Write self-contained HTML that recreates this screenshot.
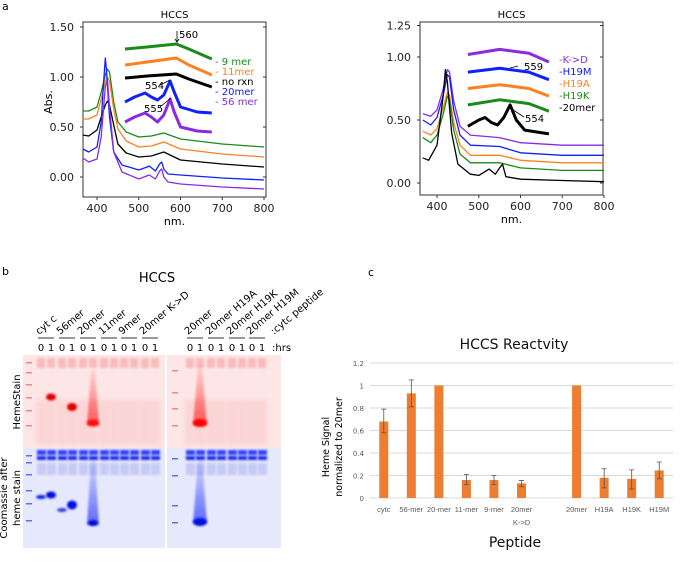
<!DOCTYPE html>
<html><head><meta charset="utf-8"><style>
body{margin:0;background:#fff;}
svg{display:block;font-family:"DejaVu Sans","Liberation Sans",sans-serif;}
</style></head><body>
<svg id="fig" width="695" height="564" viewBox="0 0 695 564" xmlns="http://www.w3.org/2000/svg">
<defs>
<filter id="bl" x="-50%" y="-50%" width="200%" height="200%"><feGaussianBlur stdDeviation="2"/></filter>
<filter id="bl2" x="-50%" y="-50%" width="200%" height="200%"><feGaussianBlur stdDeviation="1"/></filter>
<linearGradient id="smR" x1="0" y1="0" x2="0" y2="1"><stop offset="0" stop-color="#ff3030" stop-opacity="0.1"/><stop offset="1" stop-color="#ff2020" stop-opacity="0.7"/></linearGradient>
<linearGradient id="smB" x1="0" y1="0" x2="0" y2="1"><stop offset="0" stop-color="#3040ff" stop-opacity="0.1"/><stop offset="1" stop-color="#2030ff" stop-opacity="0.7"/></linearGradient>
</defs>
<text x="2" y="10" font-size="11">a</text>
<g id="pa1"></g>
<g id="pa2"></g>
<text x="2" y="275" font-size="11">b</text>
<text x="157" y="282" font-size="13" text-anchor="middle">HCCS</text>
<g id="gel"></g>
<text x="368" y="276" font-size="11">c</text>
<g id="bars"></g>
</svg>
<script>
const NS="http://www.w3.org/2000/svg";
function mk(p,t,a){const e=document.createElementNS(NS,t);for(const k in a)e.setAttribute(k,a[k]);p.appendChild(e);return e;}

// ---------- Panel a data (wavelength nm, absorbance) ----------
const leftWl=[366,380,400,410,420,425,430,440,450,470,500,530,560,600,700,800];
const left9mer=[.66,.66,.70,.85,1.02,1.08,1.05,.75,.55,.45,.40,.41,.44,.38,.33,.30];
const left11mer=[.58,.58,.62,.78,.96,1.00,.96,.68,.48,.36,.30,.31,.35,.28,.23,.20];
const leftNoRxn=[.42,.41,.47,.60,.72,.76,.72,.52,.33,.24,.20,.21,.25,.17,.13,.10];
const blueWl=[366,380,400,410,415,420,423,430,440,460,500,520,525,540,550,555,560,570,600,700,800];
const left20mer=[.28,.25,.30,.55,.90,1.19,1.05,.60,.25,.12,.07,.10,.11,.06,.13,.15,.08,.03,.02,-.01,-.03];
const purpWl=[366,380,400,410,420,425,430,440,460,500,525,540,550,555,560,570,600,700,800];
const left56mer=[.19,.15,.18,.40,.90,.98,.70,.25,.05,-.02,.02,-.02,.06,.08,.0,-.05,-.07,-.10,-.12];
const insLWl=[467,520,590,620,675];
const ins9=[1.28,1.30,1.33,1.28,1.18];
const ins11=[1.12,1.15,1.19,1.12,1.02];
const insNo=[.99,1.01,1.03,.98,.90];
const insPkWl=[467,490,515,530,545,560,575,585,600,640,675];
const ins20=[.75,.80,.84,.80,.77,.82,.96,.85,.70,.65,.64];
const ins56=[.55,.60,.64,.60,.55,.62,.78,.65,.50,.46,.45];
const leftYTicks=[0,0.5,1.0,1.5];
const xTicks=[400,500,600,700,800];

const rWl=[366,385,400,415,425,430,440,455,480,550,600,700,800];
const rKD=[.55,.53,.58,.75,.90,.88,.65,.45,.38,.36,.32,.30,.30];
const rH19M=[.50,.46,.52,.70,.86,.84,.58,.38,.30,.29,.24,.22,.22];
const rH19A=[.41,.38,.43,.60,.72,.70,.48,.30,.22,.22,.18,.16,.16];
const rH19K=[.36,.32,.38,.55,.69,.66,.42,.23,.16,.16,.12,.10,.10];
const rBlkWl=[366,380,400,415,420,425,435,450,480,500,525,540,550,557,565,600,700,800];
const r20mer=[.20,.18,.30,.70,.90,.80,.40,.15,.07,.06,.11,.07,.12,.15,.05,.03,.02,.01];
const insRWl=[474,550,620,668];
const insKD=[1.02,1.06,1.03,.96];
const insM=[.88,.91,.88,.82];
const insA=[.75,.78,.75,.69];
const insK=[.62,.66,.63,.57];
const insBWl=[474,500,515,530,545,560,575,590,610,668];
const insBlk=[.45,.50,.52,.48,.46,.52,.62,.50,.42,.39];
const rightYTicks=[0,0.5,1.0,1.25];

function spectra(g,o){
  const sx=nm=>o.x0+(nm-400)*o.kx, sy=v=>o.y0-v*o.ky;
  mk(g,'rect',{x:o.L,y:o.T,width:o.R-o.L,height:o.B-o.T,fill:'none',stroke:'#333','stroke-width':1});
  o.yt.forEach(v=>{const y=sy(v);
    const t=mk(g,'line',{x1:o.L-3,x2:o.L,y1:y,y2:y,stroke:'#333'});
    mk(g,'line',{x1:o.R-3,x2:o.R,y1:y,y2:y,stroke:'#333'});
    const l=mk(g,'text',{x:o.L-9,y:y+4,'font-size':11,'text-anchor':'end',fill:'#222'});l.textContent=v.toFixed(2);
    });
  xTicks.forEach(v=>{const x=sx(v);
    mk(g,'line',{x1:x,x2:x,y1:o.B,y2:o.B+3,stroke:'#333'});
    const l=mk(g,'text',{x:x,y:o.B+15,'font-size':11,'text-anchor':'middle',fill:'#222'});l.textContent=v;
    });
  const xl=mk(g,'text',{x:(o.L+o.R)/2,y:o.B+28,'font-size':11,'text-anchor':'middle'});xl.textContent='nm.';
  const tt=mk(g,'text',{x:(o.L+o.R)/2,y:o.T-4,'font-size':10,'text-anchor':'middle'});tt.textContent='HCCS';
  o.series.forEach(s=>{
    const d=s.wl.map((w,i)=>(i?'L':'M')+sx(w).toFixed(1)+','+sy(s.v[i]).toFixed(1)).join('');
    const p=mk(g,'path',{d:d,fill:'none',stroke:s.c,'stroke-width':s.w,'stroke-linejoin':'round'});
    
  });
}
const G='#1a8a1a',O='#ff8020',K='#000',B='#1020ff',P='#8a2be2';
spectra(document.getElementById('pa1'),{L:83,R:266,T:22,B:197,x0:97,kx:0.4175,y0:177,ky:100,yt:leftYTicks,series:[
 {wl:leftWl,v:left9mer,c:G,w:1.3,n:'line-9mer'},{wl:leftWl,v:left11mer,c:O,w:1.3,n:'line-11mer'},
 {wl:leftWl,v:leftNoRxn,c:K,w:1.3,n:'line-no-rxn'},{wl:blueWl,v:left20mer,c:B,w:1.3,n:'line-20mer'},
 {wl:purpWl,v:left56mer,c:P,w:1.3,n:'line-56mer'},
 {wl:insLWl,v:ins9,c:G,w:3,n:'inset-9mer'},{wl:insLWl,v:ins11,c:O,w:3,n:'inset-11mer'},
 {wl:insLWl,v:insNo,c:K,w:3,n:'inset-no-rxn'},{wl:insPkWl,v:ins20,c:B,w:3,n:'inset-20mer'},
 {wl:insPkWl,v:ins56,c:P,w:3,n:'inset-56mer'}]});
spectra(document.getElementById('pa2'),{L:420,R:603,T:22,B:195,x0:437,kx:0.4175,y0:183,ky:126,yt:rightYTicks,series:[
 {wl:rWl,v:rKD,c:P,w:1.3,n:'line-k-to-d'},{wl:rWl,v:rH19M,c:B,w:1.3,n:'line-h19m'},
 {wl:rWl,v:rH19A,c:O,w:1.3,n:'line-h19a'},{wl:rWl,v:rH19K,c:G,w:1.3,n:'line-h19k'},
 {wl:rBlkWl,v:r20mer,c:K,w:1.3,n:'line-20mer-right'},
 {wl:insRWl,v:insKD,c:P,w:3,n:'inset-k-to-d'},{wl:insRWl,v:insM,c:B,w:3,n:'inset-h19m'},
 {wl:insRWl,v:insA,c:O,w:3,n:'inset-h19a'},{wl:insRWl,v:insK,c:G,w:3,n:'inset-h19k'},
 {wl:insBWl,v:insBlk,c:K,w:3,n:'inset-20mer-right'}]});
(function(){const s=document.getElementById('fig');
 const t=mk(s,'text',{x:52,y:102,'font-size':11,'text-anchor':'middle',transform:'rotate(-90 52 102)'});t.textContent='Abs.';
 const legL=[['- 9 mer',G],['- 11mer',O],['- no rxn',K],['- 20mer',B],['- 56 mer',P]];
 legL.forEach((l,i)=>{const e=mk(s,'text',{x:215,y:65+i*10,'font-size':10,fill:l[1]});e.textContent=l[0];});
 const legR=[['-K->D',P],['-H19M',B],['-H19A',O],['-H19K',G],['-20mer',K]];
 legR.forEach((l,i)=>{const e=mk(s,'text',{x:559,y:63+i*12,'font-size':10,fill:l[1]});e.textContent=l[0];});
 [['560',179,38],['554',145,89],['555',144,112],['559',524,70],['554',525,122]].forEach(a=>{const e=mk(s,'text',{x:a[1],y:a[2],'font-size':10});e.textContent=a[0];});
 mk(s,'path',{d:'M177,31 L177,42 M175,39 L177,42 L179,39',stroke:'#000',fill:'none','stroke-width':0.8});
 mk(s,'path',{d:'M160,85 L170,80 M160,107 L171,98 M518,66 L510,68 M524,117 L510,108',stroke:'#000',fill:'none','stroke-width':0.8});
})();

// ---------- Gel ----------
(function(){const g=document.getElementById('gel');
 mk(g,'rect',{x:23,y:355,width:142,height:93,fill:'#fde6e6'});
 mk(g,'rect',{x:167,y:355,width:114,height:93,fill:'#fde6e6'});
 mk(g,'rect',{x:23,y:448,width:142,height:100,fill:'#e6e8fb'});
 mk(g,'rect',{x:167,y:448,width:114,height:100,fill:'#e6e8fb'});
 const lanes=[41,51,62,72,83,93,104,114,124,134,145,155,190,200,211,221,232,242,252,262];
 lanes.forEach(x=>{
  mk(g,'rect',{x:x-4,y:358,width:8,height:10,fill:'#f4a0a0',opacity:0.6,filter:'url(#bl2)'});
  mk(g,'rect',{x:x-5,y:400,width:10,height:45,fill:'#f7b5b5',opacity:0.35,filter:'url(#bl)'});
  mk(g,'rect',{x:x-4,y:450,width:9,height:5,fill:'#3040ff',filter:'url(#bl2)'});
  mk(g,'rect',{x:x-4,y:456,width:9,height:4,fill:'#1a2ae0',filter:'url(#bl2)'});
  mk(g,'rect',{x:x-4,y:463,width:9,height:12,fill:'#b0b8f0',opacity:0.6,filter:'url(#bl2)'});
 });
 [[28,362],[28,372],[28,384],[28,397],[28,410],[28,425]].forEach(p=>mk(g,'rect',{x:p[0]-2,y:p[1],width:6,height:1.5,fill:'#f08888'}));
 [[174,370],[174,392],[174,408],[174,425]].forEach(p=>mk(g,'rect',{x:p[0]-2,y:p[1],width:6,height:1.5,fill:'#f08888'}));
 [[28,455],[28,462],[28,474],[28,490],[28,503],[28,520],[174,458],[174,475],[174,505],[174,522]].forEach(p=>mk(g,'rect',{x:p[0]-2,y:p[1],width:6,height:1.5,fill:'#6070f0'}));
 mk(g,'ellipse',{cx:51,cy:397,rx:5,ry:3.5,fill:'#e00000',filter:'url(#bl2)'});
 mk(g,'ellipse',{cx:72,cy:407,rx:5,ry:4,fill:'#e00000',filter:'url(#bl2)'});
 mk(g,'path',{d:'M91,370 L95,370 L99,425 L87,425 Z',fill:'url(#smR)',filter:'url(#bl2)'});
 mk(g,'ellipse',{cx:93,cy:423,rx:6,ry:3.5,fill:'#ff1010',filter:'url(#bl2)'});
 mk(g,'path',{d:'M198,365 L202,365 L207,425 L193,425 Z',fill:'url(#smR)',filter:'url(#bl2)'});
 mk(g,'ellipse',{cx:200,cy:423,rx:7,ry:4,fill:'#ff0000',filter:'url(#bl2)'});
 mk(g,'ellipse',{cx:41,cy:497,rx:5,ry:2,fill:'#1020e0',filter:'url(#bl2)'});
 mk(g,'ellipse',{cx:51,cy:495,rx:5,ry:3.5,fill:'#0010e0',filter:'url(#bl2)'});
 mk(g,'ellipse',{cx:62,cy:510,rx:5,ry:2,fill:'#3040e0',filter:'url(#bl2)'});
 mk(g,'ellipse',{cx:72,cy:505,rx:5,ry:4.5,fill:'#0010e0',filter:'url(#bl2)'});
 mk(g,'path',{d:'M91,460 L95,460 L99,525 L87,525 Z',fill:'url(#smB)',filter:'url(#bl2)'});
 mk(g,'ellipse',{cx:93,cy:523,rx:5,ry:3,fill:'#0010d0',filter:'url(#bl2)'});
 mk(g,'path',{d:'M198,460 L202,460 L207,523 L193,523 Z',fill:'url(#smB)',filter:'url(#bl2)'});
 mk(g,'ellipse',{cx:200,cy:522,rx:7,ry:4,fill:'#0010e0',filter:'url(#bl2)'});
 const gelLabels=['cyt c','56mer','20mer','11mer','9mer','20mer K->D','20mer','20mer H19A','20mer H19K','20mer H19M'];
 const pairX=[46,67,88,109,129,150,195,216,237,257];
 gelLabels.forEach((t,i)=>{const x=pairX[i];
  mk(g,'line',{x1:x-8,x2:x+8,y1:338,y2:338,stroke:'#000','stroke-width':0.8});
  const e=mk(g,'text',{x:x-7,y:335,'font-size':10,transform:'rotate(-40 '+(x-7)+' 335)'});e.textContent=t;
  ['0','1'].forEach((h,j)=>{const n=mk(g,'text',{x:x-5+j*10,y:351,'font-size':10,'text-anchor':'middle'});n.textContent=h;});
 });
 const cp=mk(g,'text',{x:274,y:335,'font-size':10,transform:'rotate(-40 274 335)'});cp.textContent=':cytc peptide';
 const hr=mk(g,'text',{x:272,y:351,'font-size':10});hr.textContent=':hrs';
 const h1=mk(g,'text',{x:20,y:402,'font-size':10,'text-anchor':'middle',transform:'rotate(-90 20 402)'});h1.textContent='HemeStain';
 const c1=mk(g,'text',{x:7,y:498,'font-size':10,'text-anchor':'middle',transform:'rotate(-90 7 498)'});c1.textContent='Coomassie after';
 const c2=mk(g,'text',{x:20,y:498,'font-size':10,'text-anchor':'middle',transform:'rotate(-90 20 498)'});c2.textContent='heme stain';
})();

// ---------- Bar chart ----------
const barCats=['cytc','56-mer','20-mer','11-mer','9-mer','20mer\nK->D','','20mer','H19A','H19K','H19M'];
const barVals=[0.68,0.93,1.0,0.16,0.16,0.13,null,1.0,0.18,0.17,0.245];
const barLo=[0.58,0.81,1.0,0.12,0.12,0.10,null,1.0,0.09,0.08,0.17];
const barHi=[0.79,1.05,1.0,0.21,0.20,0.155,null,1.0,0.26,0.25,0.32];
const barTicks=[0,0.2,0.4,0.6,0.8,1,1.2];
(function(){const g=document.getElementById('bars');
 const L=370,R=673,y0=498,k=112.5,slot=(R-L)/barCats.length;
 const sy=v=>y0-v*k, sx=i=>L+slot*(i+0.5);
 barTicks.forEach(v=>{const y=sy(v);
  const l=mk(g,'line',{x1:L,x2:R,y1:y,y2:y,stroke:'#d9d9d9','stroke-width':1});
  const t=mk(g,'text',{x:L-6,y:y+3,'font-size':7,'text-anchor':'end',fill:'#595959'});t.textContent=String(v);});
 barCats.forEach((c,i)=>{const x=sx(i);
  c.split('\n').forEach((ln,j)=>{const t=mk(g,'text',{x:x,y:512+j*13,'font-size':7.5,'text-anchor':'middle',fill:'#595959','font-family':'Liberation Sans, sans-serif'});t.textContent=ln;});
  if(barVals[i]==null)return;
  const b=mk(g,'rect',{x:x-4.5,y:sy(barVals[i]),width:9,height:barVals[i]*k,fill:'#ed7d31'});
  if(barHi[i]>barLo[i]){
   const e=mk(g,'path',{d:`M${x},${sy(barHi[i])}L${x},${sy(barLo[i])}M${x-2.5},${sy(barHi[i])}L${x+2.5},${sy(barHi[i])}M${x-2.5},${sy(barLo[i])}L${x+2.5},${sy(barLo[i])}`,stroke:'#555','stroke-width':0.8,fill:'none'});
   }
 });
 const t=mk(g,'text',{x:514,y:349,'font-size':14,'text-anchor':'middle',fill:'#111'});t.textContent='HCCS Reactvity';
 const xt=mk(g,'text',{x:515,y:547,'font-size':14,'text-anchor':'middle',fill:'#111'});xt.textContent='Peptide';
 const y1=mk(g,'text',{x:329,y:447,'font-size':9.5,'text-anchor':'middle',transform:'rotate(-90 329 447)'});y1.textContent='Heme Signal';
 const y2=mk(g,'text',{x:342,y:447,'font-size':9.5,'text-anchor':'middle',transform:'rotate(-90 342 447)'});y2.textContent='normalized to 20mer';
})();
</script>
</body></html>
